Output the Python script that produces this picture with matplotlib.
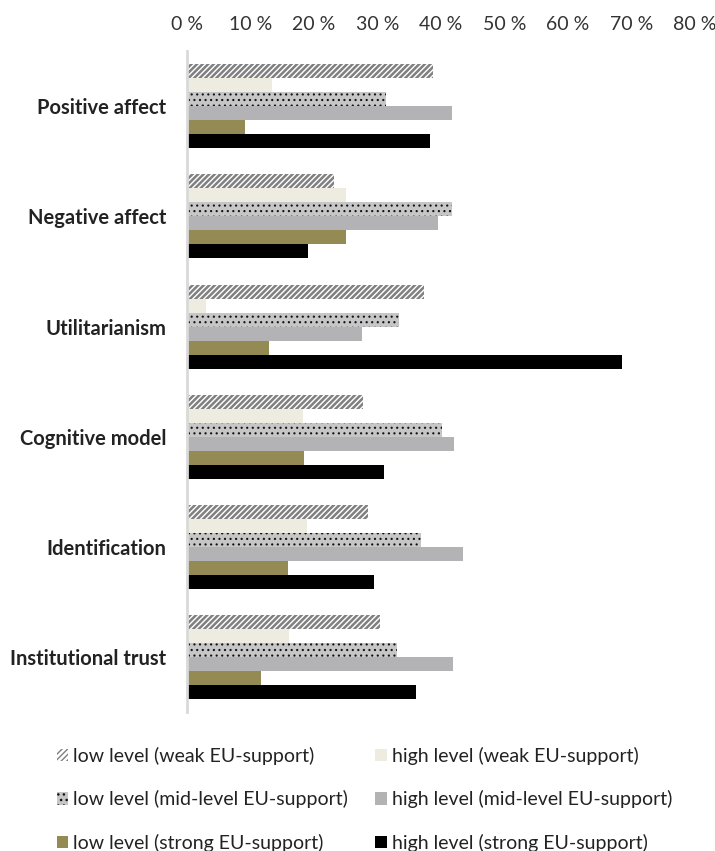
import matplotlib.pyplot as plt
import numpy as np

plt.rcParams['font.family'] = ['Lato', 'DejaVu Sans']

categories = ["Positive affect", "Negative affect", "Utilitarianism",
              "Cognitive model", "Identification", "Institutional trust"]

series_names = ["low level (weak EU-support)", "high level (weak EU-support)",
                "low level (mid-level EU-support)", "high level (mid-level EU-support)",
                "low level (strong EU-support)", "high level (strong EU-support)"]

low_weak = [38.7, 23.1, 37.3, 27.7, 28.5, 30.4]
high_weak = [13.4, 25.1, 3.0, 18.2, 18.9, 16.0]
low_mid = [31.4, 41.7, 33.4, 40.2, 36.8, 33.0]
high_mid = [41.7, 39.5, 27.5, 42.0, 43.4, 41.9]
low_strong = [9.1, 25.0, 12.9, 18.4, 15.9, 11.6]
high_strong = [38.3, 19.0, 68.5, 31.1, 29.4, 36.0]

xticks = [0, 10, 20, 30, 40, 50, 60, 70, 80]

series = [low_weak, high_weak, low_mid, high_mid, low_strong, high_strong]
styles = [
    dict(color="white", edgecolor="#808080", hatch="//////"),
    dict(color="#eeece1", edgecolor="#eeece1"),
    dict(color="#c6c6c6", edgecolor="#111111", hatch="..."),
    dict(color="#b3b3b5", edgecolor="#b3b3b5"),
    dict(color="#948a54", edgecolor="#948a54"),
    dict(color="#000000", edgecolor="#000000"),
]
hatch_lw = [1.8, 1.0, 0.8, 1.0, 1.0, 1.0]

fig = plt.figure(figsize=(7.15, 8.51), dpi=100)
ax = fig.add_axes([0.2615, 0.163, 0.7105, 0.777])

y = np.arange(len(categories))
h = 0.127
bars = []
for j, (vals, st) in enumerate(zip(series, styles)):
    with plt.rc_context({'hatch.linewidth': hatch_lw[j]}):
        b = ax.barh(y + (j - 2.5) * h, vals, height=h, linewidth=0,
                    label=series_names[j], **st)
    bars.append(b)

ax.set_xlim(0, 80)
ax.set_ylim(len(categories) - 0.5, -0.5)
ax.set_xticks(xticks)
ax.set_xticklabels([f"{t} %" for t in xticks])
ax.xaxis.tick_top()
ax.tick_params(axis="x", length=0, pad=13, labelsize=14, colors="#333333")
ax.set_yticks(y)
ax.set_yticklabels(categories, fontweight="bold", fontsize=14.5, color="#222222")
ax.tick_params(axis="y", length=0, pad=15)

for s in ["top", "right", "bottom"]:
    ax.spines[s].set_visible(False)
ax.spines["left"].set_color("#d9d9d9")
ax.spines["left"].set_linewidth(2)

# low levels in the first column, high levels in the second
order = [0, 2, 4, 1, 3, 5]
fig.legend([bars[i] for i in order], [series_names[i] for i in order],
           ncol=2, loc="upper left", bbox_to_anchor=(0.055, 0.143),
           frameon=False, fontsize=14, handlelength=0.6, handleheight=0.6,
           handletextpad=0.25, labelspacing=1.3, columnspacing=1.4,
           labelcolor="#222222")

fig.savefig("out.png", dpi=100)
